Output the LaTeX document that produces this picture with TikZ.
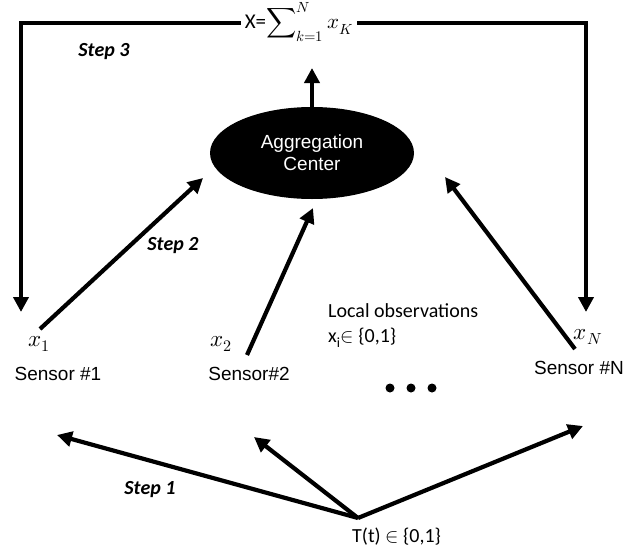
\documentclass[tikz,border=0pt]{standalone}
\usepackage{fontspec}
\usepackage{unicode-math}
\setmainfont{Carlito}
\setmathfont{Latin Modern Math}
\newfontfamily\arialf{Liberation Sans}
\usetikzlibrary{arrows.meta,shapes.geometric}
\begin{document}
\begin{tikzpicture}[x=1pt,y=-1pt,
  conn/.style={line width=4.2pt,line join=miter,-{Triangle[length=15pt,width=15pt]}},
  lbl/.style={font=\fontsize{20}{24}\selectfont, inner sep=0pt},
  varlbl/.style={font=\fontsize{23}{26}\selectfont, inner sep=0pt},
  sens/.style={font=\arialf\fontsize{19}{22}\selectfont, inner sep=0pt},
  steplbl/.style={font=\bfseries\itshape\fontsize{20}{24}\selectfont, inner sep=0pt},
  dotmark/.style={circle, fill=black, inner sep=0pt, minimum size=9pt},
]
\useasboundingbox (0,0) rectangle (633,552);

% formula at the top
\node[lbl, font=\fontsize{21}{24}\selectfont, inner xsep=4pt] (sum) at (299,22) {X=$\displaystyle\sum\nolimits_{k=1}^{N} x_{K}$};
\coordinate (tl) at (21,23);
\coordinate (tr) at (586,23);
\coordinate (bl) at (21,312);
\coordinate (br) at (586,312);
\draw[conn] (sum.west |- tl) -- (tl) -- (bl);
\draw[conn] (sum.east |- tr) -- (tr) -- (br);
\node[steplbl] (s3) at (104,52) {Step 3};

% aggregation center
\node[ellipse, fill=black, minimum width=204pt, minimum height=92pt, inner sep=0pt,
      sens, text=white, align=center] (agg) at (312,153) {Aggregation\\Center};
\coordinate (up) at (312,68);
\draw[conn] (agg.north) -- (up);

% sensors
\node[varlbl] (x1) at (39,344) {$x_1$};
\node[varlbl] (x2) at (221,344) {$x_2$};
\node[varlbl] (xN) at (588,337) {$x_N$};
\node[sens] (sen1) at (58,374) {Sensor \#1};
\node[sens] (sen2) at (249,374) {Sensor\#2};
\node[sens] (senN) at (579,368) {Sensor \#N};

\coordinate (t1) at (40,329);  \coordinate (h1) at (203,178);
\coordinate (t2) at (247,355); \coordinate (h2) at (313,208);
\coordinate (tN) at (575,349); \coordinate (hN) at (445,177);
\draw[conn] (t1) -- (h1);
\draw[conn] (t2) -- (h2);
\draw[conn] (tN) -- (hN);
\node[steplbl] (s2) at (173,246) {Step 2};

\node[lbl, anchor=west] (loc) at (328,311) {Local observations};
\node[lbl, anchor=west] (xi) at (328,338) {x\textsubscript{i}$\in$ \{0,1\}};

\node[dotmark] (d1) at (390,388) {};
\node[dotmark] (d2) at (411,388) {};
\node[dotmark] (d3) at (432,388) {};

% step 1
\coordinate (root) at (358,518);
\coordinate (b1) at (57,435);
\coordinate (b2) at (254,437);
\coordinate (b3) at (583,426);
\draw[conn] (root) -- (b1);
\draw[conn] (root) -- (b2);
\draw[conn] (root) -- (b3);
\node[steplbl] (s1) at (150,490) {Step 1};
\node[lbl, anchor=west] (T) at (352,537) {T(t) $\in$ \{0,1\}};
\end{tikzpicture}
\end{document}
